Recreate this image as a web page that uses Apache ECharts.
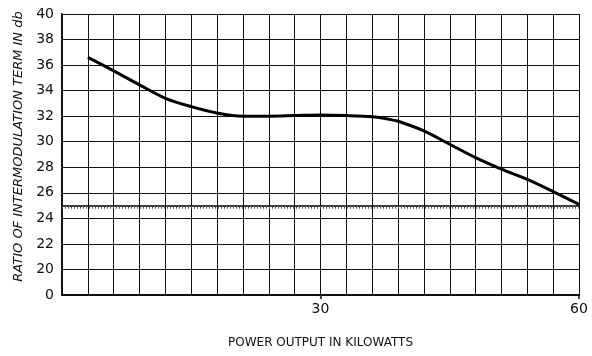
<!DOCTYPE html>
<html>
<head>
<meta charset="utf-8">
<script src="https://cdn.jsdelivr.net/npm/echarts@6/dist/echarts.min.js"></script>
<style>
  html, body { margin: 0; padding: 0; background: #fff; }
  #chart { width: 592px; height: 356px; }
</style>
</head>
<body>
<div id="chart"></div>
<script>
// Power output (kW) and intermodulation ratio (db)
const powerKW = [3, 6, 9, 12, 15, 18, 21, 24, 27, 30, 33, 36, 38, 39, 42, 45, 48, 51, 54, 57, 60];
const ratioDb = [36.6, 35.55, 34.45, 33.4, 32.75, 32.25, 32.0, 32.0, 32.05, 32.1, 32.05, 31.95, 31.75, 31.6, 30.85, 29.8, 28.75, 27.85, 27.05, 26.1, 25.1];

// Limit line
const limitDb = 25;

// Axis labelling
const xTickLabels = [30, 60];
const yBreakValue = 18;   // bottom row of the grid stands for 0 (broken scale)
const yBreakLabel = '0';

const chart = echarts.init(document.getElementById('chart'));
const ink = '#111';
const font = 'DejaVu Sans';

chart.setOption({
  backgroundColor: '#fff',
  animation: false,
  grid: { left: 62, right: 13, top: 14, bottom: 61 },
  xAxis: [{
    // graph-paper grid every 3 kW, labels at 30 and 60
    type: 'value',
    min: 0, max: 60, interval: 3,
    name: 'POWER OUTPUT IN KILOWATTS',
    nameLocation: 'middle',
    nameGap: 42,
    nameTextStyle: { color: ink, fontFamily: font, fontSize: 12 },
    axisLine: { show: true, lineStyle: { color: ink, width: 2 } },
    axisTick: { show: false },
    axisLabel: {
      color: ink, fontFamily: font, fontSize: 14, margin: 7,
      formatter: v => (xTickLabels.indexOf(v) >= 0 ? String(v) : '')
    },
    splitLine: { show: true, lineStyle: { color: ink, width: 1 } }
  }, {
    // short outward ticks under the labelled values
    type: 'value',
    position: 'bottom',
    min: 0, max: 60,
    axisLine: { show: false },
    axisTick: { show: true, customValues: xTickLabels, length: 4, lineStyle: { color: ink, width: 1.5 } },
    axisLabel: { show: false },
    splitLine: { show: false }
  }],
  yAxis: {
    type: 'value',
    min: yBreakValue, max: 40, interval: 2,
    name: 'RATIO OF INTERMODULATION TERM IN db',
    nameLocation: 'middle',
    nameGap: 34,
    nameRotate: 90,
    nameTextStyle: { color: ink, fontFamily: font, fontSize: 13, fontStyle: 'italic', padding: [0, 0, 0, 16] },
    axisLine: { show: true, lineStyle: { color: ink, width: 2 } },
    axisTick: { show: false },
    axisLabel: {
      color: ink, fontFamily: font, fontSize: 14, margin: 8,
      formatter: v => (v === yBreakValue ? yBreakLabel : String(v))
    },
    splitLine: { show: true, lineStyle: { color: ink, width: 1 } }
  },
  series: [{
    type: 'line',
    xAxisIndex: 0,
    data: powerKW.map((p, i) => [p, ratioDb[i]]),
    smooth: 0.3,
    showSymbol: false,
    lineStyle: { color: '#000', width: 3 },
    markLine: {
      silent: true,
      symbol: 'none',
      label: { show: false },
      data: [
        { yAxis: limitDb, lineStyle: { color: '#000', width: 1.5, type: 'solid' } },
        { yAxis: limitDb - 0.15, lineStyle: { color: '#555', width: 2.5, type: [1, 2] } }
      ]
    },
    z: 5
  }]
});
</script>
</body>
</html>
